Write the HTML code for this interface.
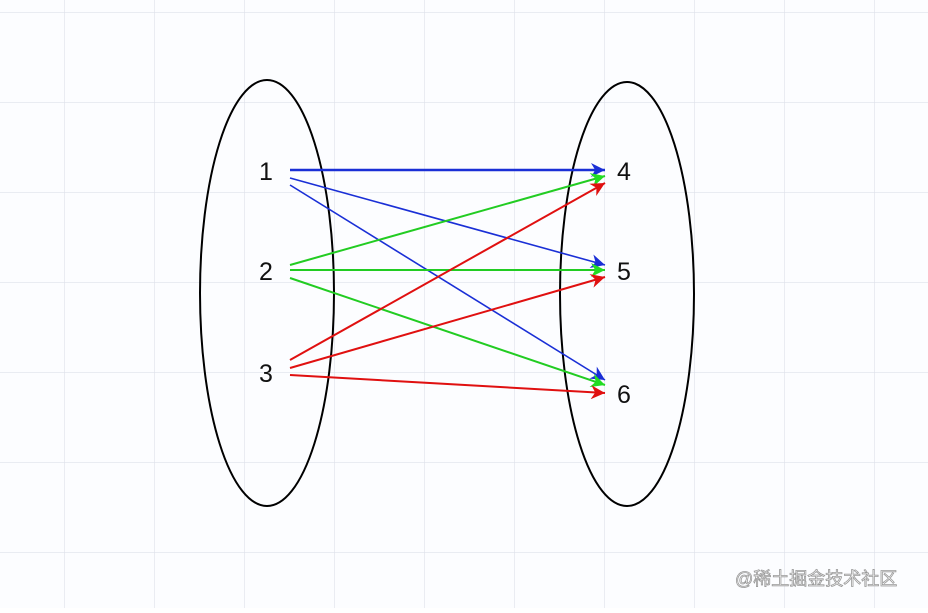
<!DOCTYPE html>
<html><head><meta charset="utf-8"><style>
body{margin:0;width:928px;height:608px;overflow:hidden;background:#fff}
</style></head><body>
<svg width="928" height="608" viewBox="0 0 928 608" xmlns="http://www.w3.org/2000/svg">
<defs>
<pattern id="g" x="64" y="12" width="90" height="90" patternUnits="userSpaceOnUse">
<path d="M0 0H90M0 0V90" stroke="#dde1ea" stroke-width="1.2" fill="none"/>
</pattern>
<marker id="mb" viewBox="0 0 10 10" refX="10" refY="5" markerWidth="18" markerHeight="14" markerUnits="userSpaceOnUse" orient="auto"><path d="M0 0L10 5L0 10L3 5z" fill="#1a2fd6"/></marker>
<marker id="mg" viewBox="0 0 10 10" refX="10" refY="5" markerWidth="18" markerHeight="14" markerUnits="userSpaceOnUse" orient="auto"><path d="M0 0L10 5L0 10L3 5z" fill="#22dd22"/></marker>
<marker id="mr" viewBox="0 0 10 10" refX="10" refY="5" markerWidth="18" markerHeight="14" markerUnits="userSpaceOnUse" orient="auto"><path d="M0 0L10 5L0 10L3 5z" fill="#e01010"/></marker>
</defs>
<rect width="928" height="608" fill="#fcfdff"/>
<rect width="928" height="608" fill="url(#g)"/>
<ellipse cx="267" cy="293" rx="67" ry="213" fill="none" stroke="#000" stroke-width="2"/>
<ellipse cx="627" cy="294" rx="67" ry="212" fill="none" stroke="#000" stroke-width="2"/>
<g font-family="Liberation Sans, sans-serif" font-size="25" fill="#111">
<text x="259" y="180">1</text><text x="259" y="280">2</text><text x="259" y="382">3</text>
<text x="617" y="180">4</text><text x="617" y="280">5</text><text x="617" y="403">6</text>
</g>
<g stroke-width="2" fill="none">
<line x1="290" y1="170" x2="605" y2="170" stroke="#1a2fd6" stroke-width="2.5" marker-end="url(#mb)"/>
<line x1="290" y1="178" x2="605" y2="265" stroke="#1a2fd6" stroke-width="1.6" marker-end="url(#mb)"/>
<line x1="290" y1="185" x2="605" y2="380" stroke="#1a2fd6" stroke-width="1.6" marker-end="url(#mb)"/>
<line x1="290" y1="265" x2="605" y2="176" stroke="#22cc22" marker-end="url(#mg)"/>
<line x1="290" y1="270" x2="605" y2="270" stroke="#22cc22" marker-end="url(#mg)"/>
<line x1="290" y1="278" x2="605" y2="385" stroke="#22cc22" marker-end="url(#mg)"/>
<line x1="290" y1="360" x2="605" y2="183" stroke="#e01010" marker-end="url(#mr)"/>
<line x1="290" y1="368" x2="605" y2="277" stroke="#e01010" marker-end="url(#mr)"/>
<line x1="290" y1="375" x2="605" y2="393" stroke="#e01010" marker-end="url(#mr)"/>
</g>
<text x="735" y="585" font-family="Liberation Sans, Noto Sans CJK SC, sans-serif" font-size="18" fill="#fff" stroke="#999" stroke-width="0.8">@稀土掘金技术社区</text>
</svg>
</body></html>
